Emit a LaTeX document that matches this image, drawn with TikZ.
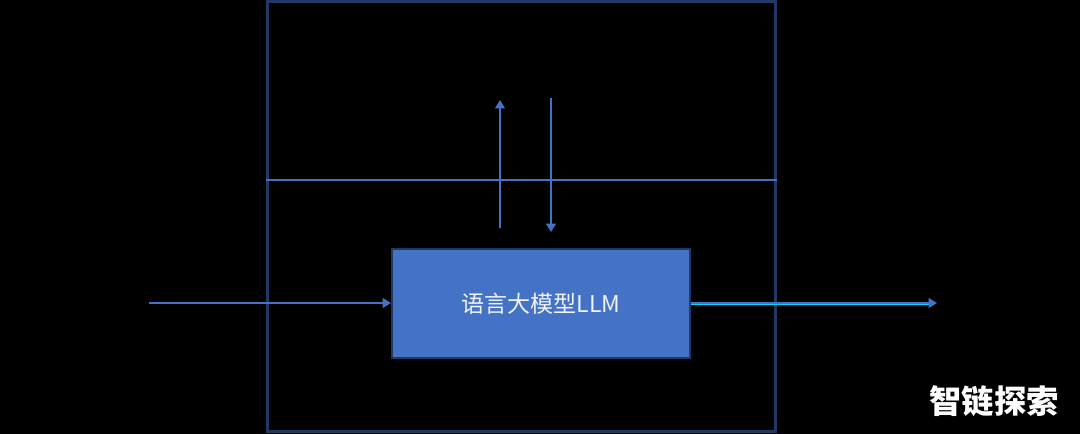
\documentclass[tikz,border=0pt]{standalone}
\usepackage{fontspec}
\usepackage{xcolor}
\usetikzlibrary{arrows.meta}
\newfontfamily\cjk{Noto Sans CJK SC}
\definecolor{llmblue}{HTML}{4472C4}
\definecolor{frameblue}{HTML}{203864}
\definecolor{outcyan}{HTML}{00D8FF}

\begin{document}
\begin{tikzpicture}[
  x=0.025cm, y=-0.025cm,
  frame/.style={
    draw=frameblue, line width=2.2pt
  },
  model/.style={
    draw=frameblue, fill=llmblue, line width=1.4pt,
    minimum width=7.45cm, minimum height=2.725cm,
    font=\cjk\fontsize{16.4}{19}\selectfont, text=white!92!llmblue
  },
  flow/.style={
    draw=llmblue, line width=1.3pt,
    -{Triangle[length=6pt, width=7pt]}
  },
  wmark/.style={
    font=\cjk\bfseries\fontsize{23}{25}\selectfont, text=white
  }
]

% background
\fill[black] (0,0) rectangle (1080,434);
\useasboundingbox (0,0) rectangle (1080,434);

% outer frame and divider
\node[frame, minimum width=12.7cm, minimum height=10.75cm, inner sep=0pt] (box) at (521.75,216.5) {};
\draw[llmblue, line width=1.4pt] (box.west |- 0,180) coordinate (divl) -- (box.east |- 0,180) coordinate (divr);

% model
\node[model] (llm) at (541,303.5) {语言大模型LLM};

% in / out
\coordinate (in) at (149,303);
\coordinate (out) at (937,303);
\draw[flow] (in) -- (llm.west |- in);
\draw[outcyan, line width=0.7pt] ([yshift=-1.2pt]llm.east |- out) -- ([xshift=-5pt, yshift=-1.2pt]out);
\draw[flow] (llm.east |- out) -- (out);

% up and down arrows
\coordinate (upfrom) at (500,228);
\coordinate (upto) at (500,100);
\coordinate (downfrom) at (551,98);
\coordinate (downto) at (551,232);
\draw[flow] (upfrom) -- (upto);
\draw[flow] (downfrom) -- (downto);

% watermark
\node[wmark] (wm) at (994,401) {智链探索};

\end{tikzpicture}
\end{document}
